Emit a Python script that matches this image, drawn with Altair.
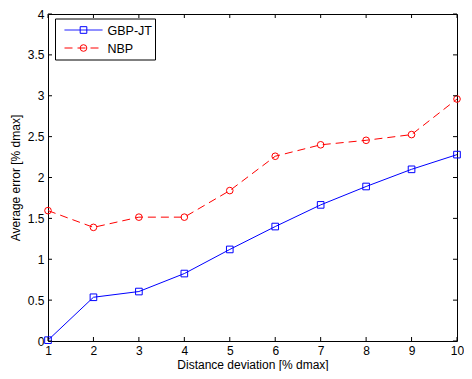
import altair as alt
import pandas as pd

x_vals = [1, 2, 3, 4, 5, 6, 7, 8, 9, 10]
gbp_jt = [0.01, 0.535, 0.605, 0.825, 1.12, 1.40, 1.665, 1.89, 2.10, 2.28]
nbp = [1.595, 1.39, 1.515, 1.515, 1.84, 2.26, 2.40, 2.455, 2.525, 2.96]
x_ticks = [1, 2, 3, 4, 5, 6, 7, 8, 9, 10]
y_ticks = [0, 0.5, 1, 1.5, 2, 2.5, 3, 3.5, 4]
series_names = ["GBP-JT", "NBP"]
series_colors = ["#0000FF", "#FF0000"]

W, H = 409, 327
FONT = "Liberation Sans"
FS = 12

df_g = pd.DataFrame({"x": x_vals, "y": gbp_jt})
df_n = pd.DataFrame({"x": x_vals, "y": nbp})
df_xt = pd.DataFrame({"v": x_ticks})
df_yt = pd.DataFrame({"v": y_ticks})

xs = alt.Scale(domain=[1, 10], nice=False, zero=False)
ys = alt.Scale(domain=[0, 4], nice=False)

X = alt.X("x:Q", scale=xs, axis=alt.Axis(
    values=x_ticks, tickCount=len(x_ticks), title="Distance deviation [% dmax]", grid=False, ticks=False, tickSize=0,
    domain=False, labelPadding=4, titlePadding=3, labelFontSize=FS, titleFontSize=FS,
    labelFont=FONT, titleFont=FONT, labelColor="#000", titleColor="#000", titleFontWeight="normal",
    labelExpr="datum.value + ''", labelFlush=False, labelOverlap=False))
Y = alt.Y("y:Q", scale=ys, axis=alt.Axis(
    values=y_ticks, tickCount=len(y_ticks), title="Average error [% dmax]", grid=False, ticks=False, tickSize=0,
    domain=False, labelPadding=4, titlePadding=5, labelFontSize=FS, titleFontSize=FS,
    labelFont=FONT, titleFont=FONT, labelColor="#000", titleColor="#000", titleFontWeight="normal",
    labelExpr="datum.value + ''", labelFlush=False, labelOverlap=False))

g_line = alt.Chart(df_g).mark_line(color=series_colors[0], strokeWidth=1).encode(x=X, y=Y)
g_pts = alt.Chart(df_g).mark_point(shape="square", color=series_colors[0], size=44, strokeWidth=1, filled=False, opacity=1).encode(x="x:Q", y="y:Q")
n_line = alt.Chart(df_n).mark_line(color=series_colors[1], strokeWidth=1, strokeDash=[8, 5]).encode(x="x:Q", y="y:Q")
n_pts = alt.Chart(df_n).mark_point(shape="circle", color=series_colors[1], size=44, strokeWidth=1, filled=False, opacity=1).encode(x="x:Q", y="y:Q")

TL = 4
xt_bot = alt.Chart(df_xt).mark_rule(color="black", strokeWidth=1).encode(x=alt.X("v:Q"), y=alt.value(H), y2=alt.value(H - TL))
xt_top = alt.Chart(df_xt).mark_rule(color="black", strokeWidth=1).encode(x=alt.X("v:Q"), y=alt.value(0), y2=alt.value(TL))
yt_left = alt.Chart(df_yt).mark_rule(color="black", strokeWidth=1).encode(y=alt.Y("v:Q"), x=alt.value(0), x2=alt.value(TL))
yt_right = alt.Chart(df_yt).mark_rule(color="black", strokeWidth=1).encode(y=alt.Y("v:Q"), x=alt.value(W), x2=alt.value(W - TL))

# legend
box = alt.Chart(pd.DataFrame({"a": [0]})).mark_rect(fill="white", stroke="black", strokeWidth=1).encode(
    x=alt.value(7.5), x2=alt.value(107.5), y=alt.value(5), y2=alt.value(46))
leg_layers = []
leg_y = [16, 34]
shapes = ["square", "circle"]
dashes = [[1, 0], [8, 5]]
for i, name in enumerate(series_names):
    d = pd.DataFrame({"label": [name]})
    leg_layers.append(alt.Chart(d).mark_rule(color=series_colors[i], strokeWidth=1, strokeDash=dashes[i]).encode(
        x=alt.value(16.5), x2=alt.value(54.5), y=alt.value(leg_y[i])))
    leg_layers.append(alt.Chart(d).mark_point(shape=shapes[i], color=series_colors[i], size=44, strokeWidth=1, filled=False, opacity=1).encode(
        x=alt.value(35.5), y=alt.value(leg_y[i])))
    leg_layers.append(alt.Chart(d).mark_text(align="left", baseline="middle", font=FONT, fontSize=12.5, color="black").encode(
        x=alt.value(59.5), y=alt.value(leg_y[i] + 0.5), text="label:N"))

chart = alt.layer(
    g_line, n_line, g_pts, n_pts, xt_bot, xt_top, yt_left, yt_right, box, *leg_layers
).properties(
    width=W, height=H,
    padding={"left": 40, "top": 6, "right": 7, "bottom": 30},
    autosize=alt.AutoSizeParams(type="none"),
    background="white",
).configure_view(stroke="black", strokeWidth=1)

chart.save("out.html", embed_options={"renderer": "svg", "actions": False})
